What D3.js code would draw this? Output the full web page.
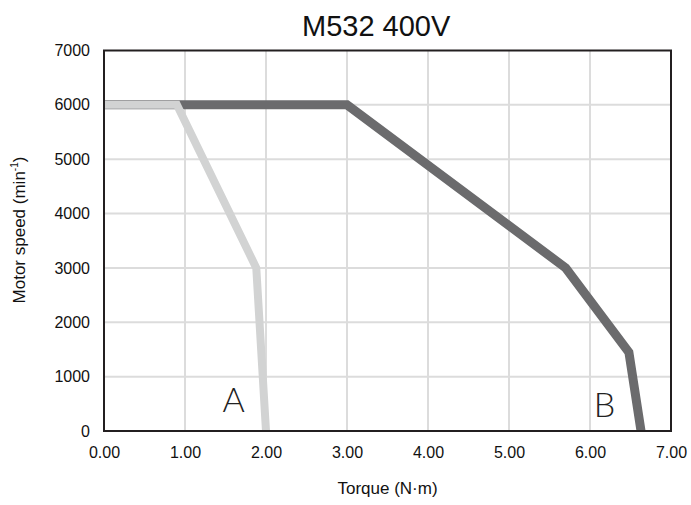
<!DOCTYPE html>
<html><head><meta charset="utf-8">
<script src="https://cdn.jsdelivr.net/npm/d3@7"></script>
<style>body{margin:0;background:#fff}svg{display:block;font-family:"Liberation Sans",Arial,sans-serif}</style>
</head><body><svg id="c" width="691" height="505"></svg>
<script>
const title = "M532 400V";
const xTicks = [0,1,2,3,4,5,6,7];
const yTicks = [0,1000,2000,3000,4000,5000,6000,7000];
const seriesB_torque = [0, 3.0, 5.7, 6.48, 6.63];
const seriesB_speed  = [6000, 6000, 3000, 1450, 0];
const seriesA_torque = [0, 0.9, 1.88, 2.0];
const seriesA_speed  = [6000, 6000, 3000, 0];
const labels = [{t:"A", x:1.6, y:350},{t:"B", x:6.18, y:260}];

const svg = d3.select("#c");
const L=104, R=671, T=50.5, B=431;
const x = d3.scaleLinear().domain([0,7]).range([L,R]);
const y = d3.scaleLinear().domain([0,7000]).range([B,T]);

const g = svg.append("g");
g.selectAll(".gx").data(xTicks.slice(1,-1)).join("line")
  .attr("x1",d=>x(d)).attr("x2",d=>x(d)).attr("y1",T).attr("y2",B)
  .attr("stroke","#dcdcdc").attr("stroke-width",2);
g.selectAll(".gy").data(yTicks.slice(1,-1)).join("line")
  .attr("y1",d=>y(d)).attr("y2",d=>y(d)).attr("x1",L).attr("x2",R)
  .attr("stroke","#dcdcdc").attr("stroke-width",2);

const line = d3.line().x(d=>x(d[0])).y(d=>y(d[1]));
svg.append("path").datum(seriesB_torque.map((t,i)=>[t,seriesB_speed[i]]))
  .attr("d",line).attr("fill","none").attr("stroke","#6b6b6d").attr("stroke-width",9);
svg.append("path").datum(seriesA_torque.map((t,i)=>[t,seriesA_speed[i]]))
  .attr("d",line).attr("fill","none").attr("stroke","#d2d3d3").attr("stroke-width",8);

svg.append("rect").attr("x",L).attr("y",T).attr("width",R-L).attr("height",B-T)
  .attr("fill","none").attr("stroke","#231f20").attr("stroke-width",2);

const xa = svg.append("g").attr("transform",`translate(0,${B})`)
  .call(d3.axisBottom(x).tickValues(xTicks).tickFormat(d3.format(".2f")).tickSize(0).tickPadding(16));
xa.select(".domain").remove();
xa.attr("font-size",null).attr("font-family",null);
xa.selectAll("text").attr("font-size",16).attr("fill","#111");
const ya = svg.append("g").attr("transform",`translate(${L},0)`)
  .call(d3.axisLeft(y).tickValues(yTicks).tickFormat(d3.format("d")).tickSize(0).tickPadding(14));
ya.select(".domain").remove();
ya.attr("font-size",null).attr("font-family",null);
ya.selectAll("text").attr("font-size",16).attr("fill","#111");

svg.append("text").attr("x",302).attr("y",36).attr("text-anchor","start")
  .attr("font-size",29).attr("fill","#111").text(title);
svg.append("text").attr("x",(L+R)/2).attr("y",494).attr("text-anchor","middle")
  .attr("font-size",17).attr("fill","#111").text("Torque (N·m)");
const yt = svg.append("text").attr("transform",`translate(25,230) rotate(-90)`)
  .attr("text-anchor","middle").attr("font-size",17).attr("fill","#111");
yt.append("tspan").text("Motor speed (min");
yt.append("tspan").attr("font-size",10).attr("dy",-7).text("-1");
yt.append("tspan").attr("dy",7).text(")");

svg.selectAll(".lab").data(labels).join("text")
  .attr("x",d=>x(d.x)).attr("y",d=>y(d.y)).attr("text-anchor","middle")
  .attr("font-size",34).attr("font-weight",300).attr("fill","#222")
  .attr("font-family","Lato, Open Sans, Liberation Sans, sans-serif").text(d=>d.t);
</script></body></html>
